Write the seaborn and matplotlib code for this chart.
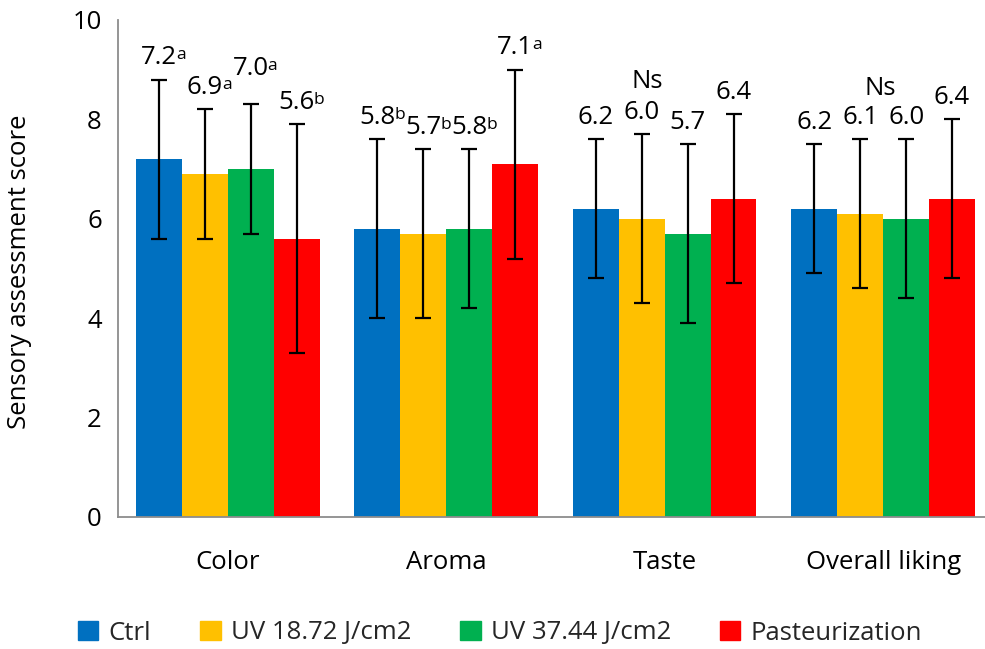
import matplotlib
matplotlib.use("Agg")
import matplotlib.pyplot as plt
import seaborn as sns
import pandas as pd
import numpy as np

# Sensory scores (mean ± SD) for each attribute and treatment
categories = ["Color", "Aroma", "Taste", "Overall liking"]
treatments = ["Ctrl", "UV 18.72 J/cm2", "UV 37.44 J/cm2", "Pasteurization"]

ctrl_mean = [7.2, 5.8, 6.2, 6.2]
uv18_mean = [6.9, 5.7, 6.0, 6.1]
uv37_mean = [7.0, 5.8, 5.7, 6.0]
past_mean = [5.6, 7.1, 6.4, 6.4]

ctrl_sd = [1.6, 1.8, 1.4, 1.3]
uv18_sd = [1.3, 1.7, 1.7, 1.5]
uv37_sd = [1.3, 1.6, 1.8, 1.6]
past_sd = [2.3, 1.9, 1.7, 1.6]

# Significance letters (superscripts); "Ns" marks attributes without differences
ctrl_sig = ["a", "b", "", ""]
uv18_sig = ["a", "b", "", ""]
uv37_sig = ["a", "b", "", ""]
past_sig = ["b", "a", "", ""]
ns_categories = ["Taste", "Overall liking"]

colors = ["#0070C0", "#FFC000", "#00B050", "#FF0000"]

means = [ctrl_mean, uv18_mean, uv37_mean, past_mean]
sds = [ctrl_sd, uv18_sd, uv37_sd, past_sd]
sigs = [ctrl_sig, uv18_sig, uv37_sig, past_sig]

rows = []
for t, m, s, g in zip(treatments, means, sds, sigs):
    for c, mv, sv, gv in zip(categories, m, s, g):
        rows.append({"Attribute": c, "Treatment": t, "Score": mv, "SD": sv, "Sig": gv})
df = pd.DataFrame(rows)

FONT = "Open Sans"
FS = 18.5
sns.set_theme(style="white")
plt.rcParams["font.family"] = [FONT, "DejaVu Sans"]

fig = plt.figure(figsize=(9.85, 6.49), dpi=100)
ax = fig.add_axes([0.1203, 0.2034, 1.0 - 0.1203, 0.9692 - 0.2034])

sns.barplot(data=df, x="Attribute", y="Score", hue="Treatment",
            order=categories, hue_order=treatments, palette=colors,
            width=0.84, gap=0, errorbar=None, saturation=1.0,
            linewidth=0, ax=ax, legend=True)

ax.set_ylim(0, 10)
ax.set_xlim(-0.5, 3.466)
ax.set_yticks(range(0, 11, 2))
ax.set_xlabel("")
ax.set_ylabel("")
ax.tick_params(axis="both", length=0, labelsize=FS, colors="black")
ax.tick_params(axis="y", pad=12)
ax.tick_params(axis="x", pad=24)
for side in ["top", "right"]:
    ax.spines[side].set_visible(False)
for side in ["left", "bottom"]:
    ax.spines[side].set_color("#8c8c8c")
    ax.spines[side].set_linewidth(1.3)

# Error bars and value labels, placed from each bar's own geometry
for i, t in enumerate(treatments):
    cont = ax.containers[i]
    for j, bar in enumerate(cont):
        x = bar.get_x() + bar.get_width() / 2
        h = bar.get_height()
        sd = sds[i][j]
        ax.errorbar(x, h, yerr=sd, fmt="none", ecolor="black",
                    elinewidth=1.6, capsize=6, capthick=1.6, zorder=5)
        lift = 0.44
        if categories[j] == "Color" and t == "UV 37.44 J/cm2":
            lift = 0.72
        txt = ax.text(x, h + sd + lift, f"{h:.1f}", ha="center", va="center",
                      fontsize=FS, color="black")
        sig = sigs[i][j]
        if sig:
            ax.annotate(sig, xy=(0.97, 0.93), xycoords=txt, ha="left", va="top",
                        fontsize=12.5, color="black")

# "Ns" above attributes without significant differences
for c, dx, y in zip(ns_categories, [-0.08, -0.014], [8.76, 8.63]):
    j = categories.index(c)
    ax.text(j + dx, y, "Ns", ha="center", va="center", fontsize=FS, color="black")

fig.text(20 / 985, 1 - 272 / 649, "Sensory assessment score", rotation=90,
         ha="center", va="center", fontsize=FS, color="black")

ax.get_legend().remove()
handles = [plt.Rectangle((0, 0), 1, 1, color=c) for c in colors]
fig.legend(handles, treatments, loc="center", bbox_to_anchor=(500 / 985, 1 - 633 / 649),
           ncol=4, frameon=False, fontsize=FS, handlelength=0.8, handleheight=0.8,
           handletextpad=0.4, columnspacing=1.9)

fig.savefig("out.png", dpi=100)
